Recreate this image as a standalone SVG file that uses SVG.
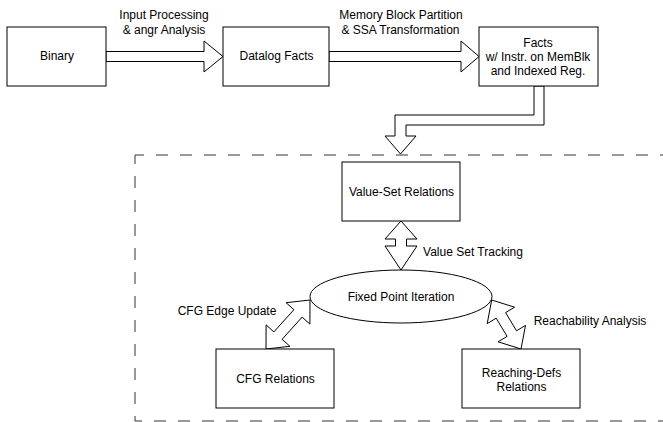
<svg xmlns="http://www.w3.org/2000/svg" width="663" height="422" viewBox="0 0 663 422">
<style>
  .box { fill: #ffffff; stroke: #000000; stroke-width: 1; }
  .arrow { fill: #ffffff; stroke: #000000; stroke-width: 1; stroke-linejoin: miter; }
  .dash { fill: none; stroke: #333333; stroke-width: 1; stroke-dasharray: 12 12; }
  text { font-family: "Liberation Sans", Arial, sans-serif; font-size: 12px; fill: #000000; text-anchor: middle; }
</style>
<rect x="0" y="0" width="663" height="422" fill="#ffffff"/>

<g id="container">
  <path class="dash" d="M135,155 H680" stroke-dashoffset="3"/>
  <path class="dash" d="M135,155 V421" stroke-dashoffset="3"/>
  <path class="dash" d="M135,421 H680" stroke-dashoffset="5"/>
</g>

<g id="connectors">
  <polygon class="arrow" points="106,51.5 204,51.5 204,41 223,56.5 204,72 204,61.5 106,61.5"/>
  <polygon class="arrow" points="329,51.5 461,51.5 461,41 479,56.5 461,72 461,61.5 329,61.5"/>
  <polygon class="arrow" points="534,86 534,115 395,115 395,136 385,136 400.5,154 416,136 406,136 406,125 544,125 544,86"/>
  <polygon class="arrow" points="401,221 385,239 395.5,239 395.5,246 385,246 401,270 417,246 406.5,246 406.5,239 417,239"/>
  <polygon class="arrow" points="266,349 289.9,346.3 282.1,339.3 302.1,317.1 309.9,324.1 310,300 286.1,302.7 293.9,309.7 273.9,331.9 266.1,324.9"/>
  <polygon class="arrow" points="491.7,300 487.2,323.6 496.2,318.2 507.1,336.4 498.1,341.8 521,349 525.5,325.4 516.5,330.8 505.6,312.6 514.6,307.2"/>
  <g id="edge-labels">
    <text x="164" y="19">Input Processing</text>
    <text x="164" y="34">&amp; angr Analysis</text>
    <text x="401" y="19">Memory Block Partition</text>
    <text x="400.5" y="34">&amp; SSA Transformation</text>
    <text x="473" y="256">Value Set Tracking</text>
    <text x="227" y="315">CFG Edge Update</text>
    <text x="590" y="325">Reachability Analysis</text>
  </g>
</g>

<g id="binary">
  <rect class="box" x="7" y="27" width="99" height="59"/>
  <text x="57" y="60">Binary</text>
</g>
<g id="datalog-facts">
  <rect class="box" x="223" y="27" width="106" height="59"/>
  <text x="276.5" y="60">Datalog Facts</text>
</g>
<g id="facts-memblk">
  <rect class="box" x="479" y="27" width="119" height="59"/>
  <text x="538" y="47">Facts</text>
  <text x="538" y="61">w/ Instr. on MemBlk</text>
  <text x="538" y="75">and Indexed Reg.</text>
</g>
<g id="value-set-relations">
  <rect class="box" x="342" y="162" width="118" height="59"/>
  <text x="401.5" y="196">Value-Set Relations</text>
</g>
<g id="fixed-point-iteration">
  <ellipse class="box" cx="401" cy="296.5" rx="91" ry="26.5"/>
  <text x="401" y="301">Fixed Point Iteration</text>
</g>
<g id="cfg-relations">
  <rect class="box" x="216" y="349" width="118" height="59"/>
  <text x="275.5" y="383">CFG Relations</text>
</g>
<g id="reaching-defs-relations">
  <rect class="box" x="462" y="349" width="118" height="59"/>
  <text x="521.5" y="377">Reaching-Defs</text>
  <text x="521.5" y="391">Relations</text>
</g>
</svg>
